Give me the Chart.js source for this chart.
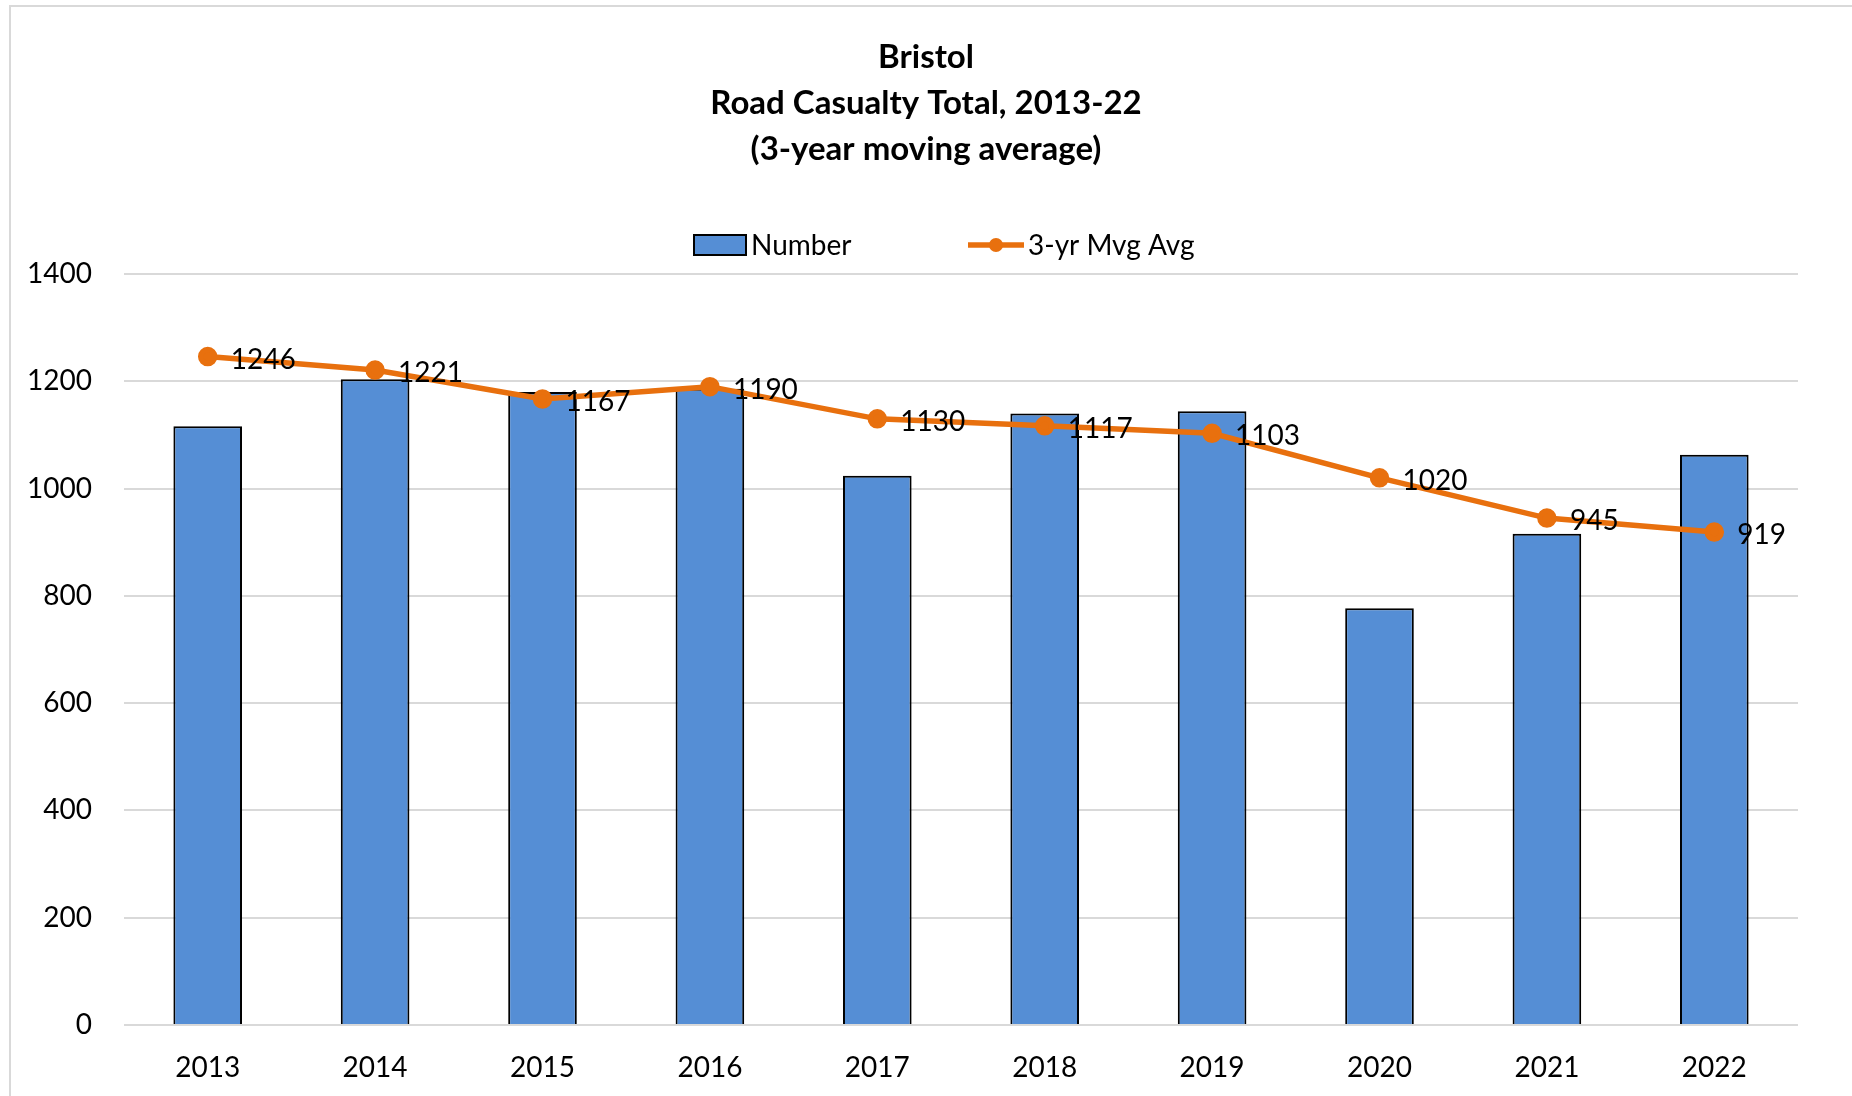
<!DOCTYPE html>
<html>
<head>
<meta charset="utf-8">
<script src="https://cdn.jsdelivr.net/npm/chart.js@4.4.1/dist/chart.umd.min.js"></script>
<style>
  html, body { margin: 0; padding: 0; background: #fff; }
  #wrap { width: 1852px; height: 1096px; position: relative; }
</style>
</head>
<body>
<div id="wrap"><canvas id="casChart" width="1852" height="1096"></canvas></div>
<script>
var years = ["2013", "2014", "2015", "2016", "2017", "2018", "2019", "2020", "2021", "2022"];
var numberVals = [1116, 1204, 1180, 1186, 1024, 1140, 1144, 777, 916, 1063];
var mvgAvgVals = [1246, 1221, 1167, 1190, 1130, 1117, 1103, 1020, 945, 919];
var yTicks = [0, 200, 400, 600, 800, 1000, 1200, 1400];
var seriesNames = ["Number", "3-yr Mvg Avg"];

var barColor = "#558ed5";
var lineColor = "#e8700e";
var fontFam = "Lato, 'Open Sans', sans-serif";

// frame, legend and value labels
var extras = {
    id: "extras",
    beforeDraw: function(chart){
        var ctx = chart.ctx;
        ctx.save();
        ctx.fillStyle = "#fff";
        ctx.fillRect(0, 0, chart.width, chart.height);
        ctx.strokeStyle = "#d9d9d9";
        ctx.lineWidth = 2;
        ctx.beginPath();
        ctx.moveTo(10, chart.height);
        ctx.lineTo(10, 6);
        ctx.lineTo(chart.width, 6);
        ctx.stroke();
        ctx.restore();
    },
    afterDraw: function(chart){
        var ctx = chart.ctx;
        ctx.save();
        // legend
        var ly = 245;
        ctx.fillStyle = barColor;
        ctx.fillRect(694, ly - 10, 52, 20);
        ctx.strokeStyle = "#000";
        ctx.lineWidth = 2;
        ctx.strokeRect(694, ly - 10, 52, 20);
        ctx.strokeStyle = lineColor;
        ctx.lineWidth = 5.5;
        ctx.beginPath(); ctx.moveTo(968, ly); ctx.lineTo(1024, ly); ctx.stroke();
        ctx.fillStyle = lineColor;
        ctx.beginPath(); ctx.arc(996, ly, 7, 0, Math.PI * 2); ctx.fill();
        ctx.font = "28px " + fontFam;
        ctx.fillStyle = "#000";
        ctx.textAlign = "left";
        ctx.textBaseline = "middle";
        ctx.fillText(seriesNames[0], 751, ly + 1);
        ctx.fillText(seriesNames[1], 1028, ly + 1);
        ctx.restore();
    },
    afterDatasetsDraw: function(chart){
        var ctx = chart.ctx;
        var meta = chart.getDatasetMeta(1);
        ctx.save();
        ctx.font = "28px " + fontFam;
        ctx.fillStyle = "#000";
        ctx.textAlign = "left";
        ctx.textBaseline = "middle";
        meta.data.forEach(function(pt, i){
            ctx.fillText(String(mvgAvgVals[i]), pt.x + 23, pt.y + 3);
        });
        ctx.restore();
    }
};

Chart.defaults.font.family = fontFam;
Chart.defaults.color = "#000";

new Chart("casChart", {
    type: "bar",
    data: {
        labels: years,
        datasets: [{
            type: "bar",
            label: seriesNames[0],
            data: numberVals,
            backgroundColor: barColor,
            borderColor: "#000",
            borderWidth: 2,
            categoryPercentage: 1,
            barPercentage: 0.41,
            yAxisID: "y",
            order: 2
        }, {
            type: "line",
            label: seriesNames[1],
            data: mvgAvgVals,
            borderColor: lineColor,
            backgroundColor: lineColor,
            borderWidth: 5.5,
            pointRadius: 7,
            pointHoverRadius: 7,
            tension: 0,
            yAxisID: "y",
            order: 1
        }]
    },
    options: {
        responsive: false,
        animation: false,
        layout: { padding: 0 },
        plugins: {
            title: {
                display: true,
                text: ["Bristol", "Road Casualty Total, 2013-22", "(3-year moving average)"],
                font: { size: 33, weight: "bold", lineHeight: 46 / 33 },
                color: "#000",
                padding: { top: 34, bottom: 102 }
            },
            legend: { display: false },
            tooltip: { enabled: false }
        },
        scales: {
            x: {
                grid: { display: false, drawTicks: false },
                border: { display: false },
                ticks: { font: { size: 28 }, color: "#000", padding: 26 },
                afterFit: function(scale){ scale.height = 71; }
            },
            y: {
                min: 0,
                max: 1400,
                afterBuildTicks: function(scale){
                    scale.ticks = yTicks.map(function(v){ return { value: v }; });
                },
                grid: { color: "#d9d9d9", lineWidth: 2, drawTicks: false },
                border: { display: false },
                ticks: {
                    font: { size: 28 }, color: "#000", padding: 32,
                    callback: function(v){ return String(v); }
                },
                afterFit: function(scale){ scale.width = 124; }
            },
            yRight: {
                position: "right",
                display: true,
                grid: { display: false, drawTicks: false },
                border: { display: false },
                ticks: { display: false },
                afterFit: function(scale){ scale.width = 54; }
            }
        }
    },
    plugins: [extras]
});
</script>
</body>
</html>
